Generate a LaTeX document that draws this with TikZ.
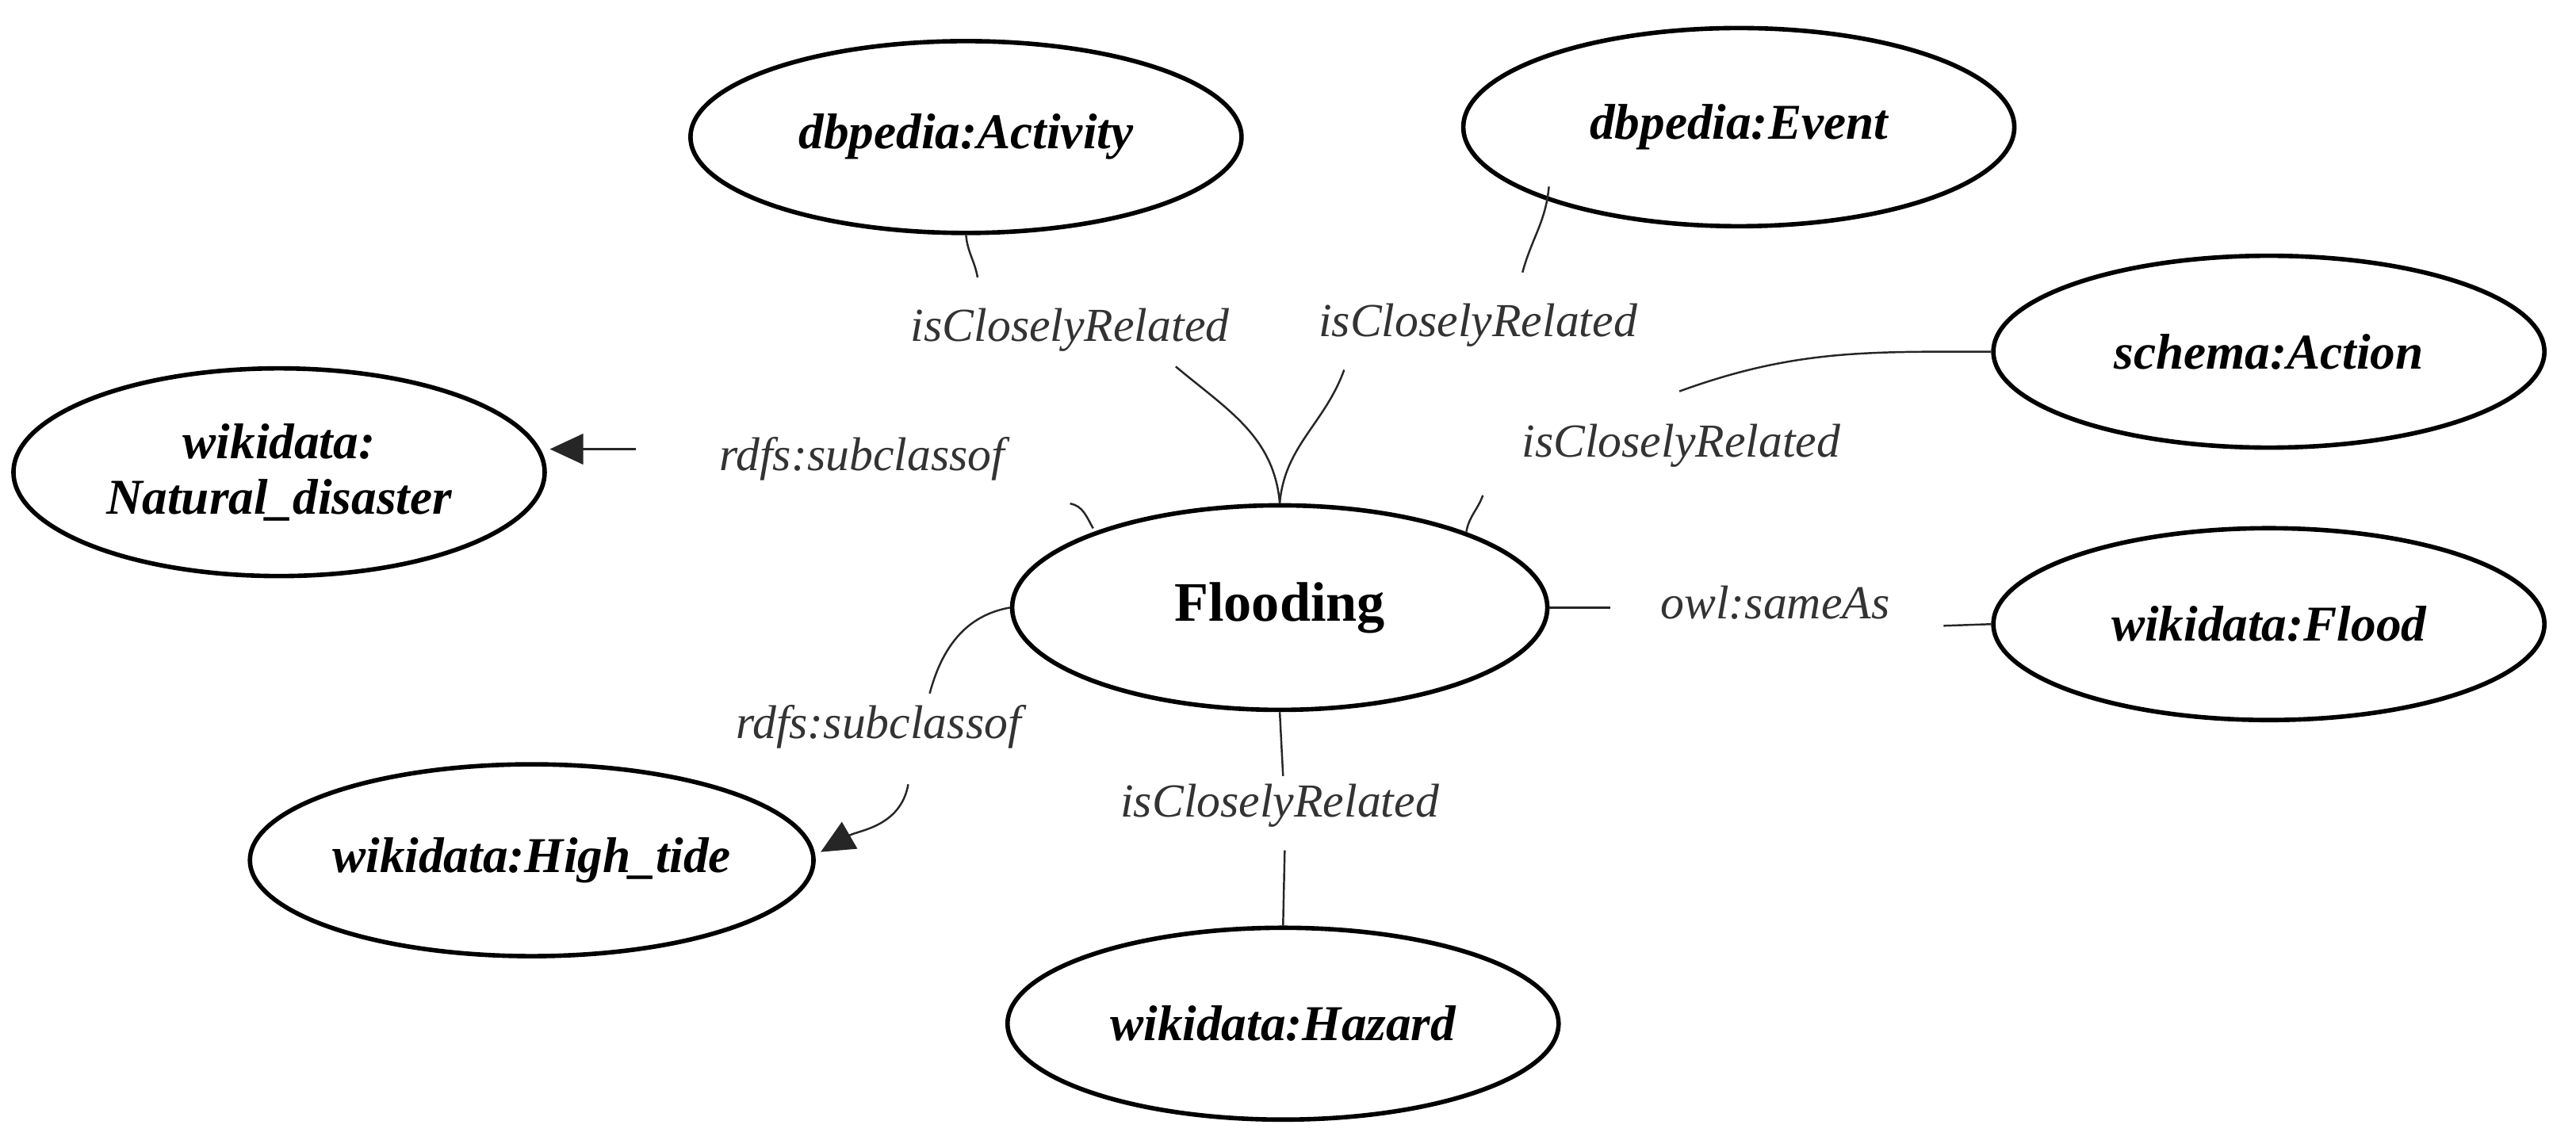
\documentclass[tikz,border=0pt]{standalone}
\usepackage{fontspec}
\setmainfont{Liberation Serif}
\usetikzlibrary{shapes.geometric}
\usetikzlibrary{arrows.meta}

\begin{document}
\begin{tikzpicture}[%
            x=0.020827cm,y=-0.020827cm,
            concept/.style={%
              draw,
              ellipse,
              line width=1.6pt,
              minimum width=6.95cm,
              minimum height=2.42cm,
              inner sep=0pt,
              font=\fontsize{18}{20}\selectfont\bfseries\itshape,
              align=center,
            },
            relation/.style={%
              font=\fontsize{17}{19}\selectfont\itshape,
              text=black!80,
            },
            link/.style={black!85,line width=0.7pt},
            tip/.style={link,-{Triangle[length=12pt,width=11pt]}},
          ]
            \useasboundingbox (0,0) rectangle (1560,690);

            \node [concept,minimum width=6.75cm,minimum height=2.58cm,
              font=\fontsize{20}{22}\selectfont\bfseries] (flooding) at (775,368) {Flooding};
            \node [concept] (activity) at (585,83) {dbpedia:Activity};
            \node [concept,minimum height=2.5cm] (event) at (1053,77) {dbpedia:Event};
            \node [concept,minimum width=6.7cm,minimum height=2.62cm] (disaster) at (169,286) {wikidata:\\Natural\_disaster};
            \node [concept] (action) at (1374,213) {schema:Action};
            \node [concept] (flood) at (1374,378) {wikidata:Flood};
            \node [concept] (tide) at (322,521) {wikidata:High\_tide};
            \node [concept] (hazard) at (777,620) {wikidata:Hazard};

            % relation labels
            \node [relation] (r activity) at (648,200) {isCloselyRelated};
            \node [relation] (r event) at (895,197) {isCloselyRelated};
            \node [relation] (r action) at (1018,270) {isCloselyRelated};
            \node [relation] (r disaster) at (522,278) {rdfs:subclassof};
            \node [relation] (r flood) at (1075,365) {owl:sameAs};
            \node [relation] (r tide) at (532,440) {rdfs:subclassof};
            \node [relation] (r hazard) at (775,488) {isCloselyRelated};

            % loose ends of the connectors
            \coordinate (a1) at (592,168);
            \coordinate (a2) at (712,222);
            \coordinate (e0) at (938,113);
            \coordinate (e1) at (922,165);
            \coordinate (e2) at (814,224);
            \coordinate (s1) at (1017,237);
            \coordinate (s2) at (888,322);
            \coordinate (s3) at (898,300);
            \coordinate (d0) at (333,272);
            \coordinate (d1) at (385,272);
            \coordinate (d2) at (648,305);
            \coordinate (d3) at (662,320);
            \coordinate (f1) at (975,368);
            \coordinate (f2) at (1177,379);
            \coordinate (t0) at (497,516);
            \coordinate (t1) at (563,420);
            \coordinate (t2) at (550,475);
            \coordinate (h1) at (777,470);
            \coordinate (h2) at (778,515);

            \draw [link] (activity.south) to[out=-85,in=100] (a1);
            \draw [link] (a2) to[out=-40,in=95] (flooding.north);
            \draw [link] (e0) to[out=-95,in=75] (e1);
            \draw [link] (e2) to[out=-110,in=85] (flooding.north);
            \draw [link] (action.west) to[out=180,in=20] (s1);
            \draw [link] (s3) to[out=-110,in=80] (s2);
            \draw [tip] (d1) -- (d0);
            \draw [link] (d2) to[out=-10,in=120] (d3);
            \draw [link] (f1) -- (flooding.east);
            \draw [link] (f2) -- (flood.west);
            \draw [link] (flooding.west) to[out=190,in=75] (t1);
            \draw [tip] (t2) to[out=-100,in=30] (t0);
            \draw [link] (flooding.south) -- (h1);
            \draw [link] (h2) -- (hazard.north);
          \end{tikzpicture}
\end{document}
